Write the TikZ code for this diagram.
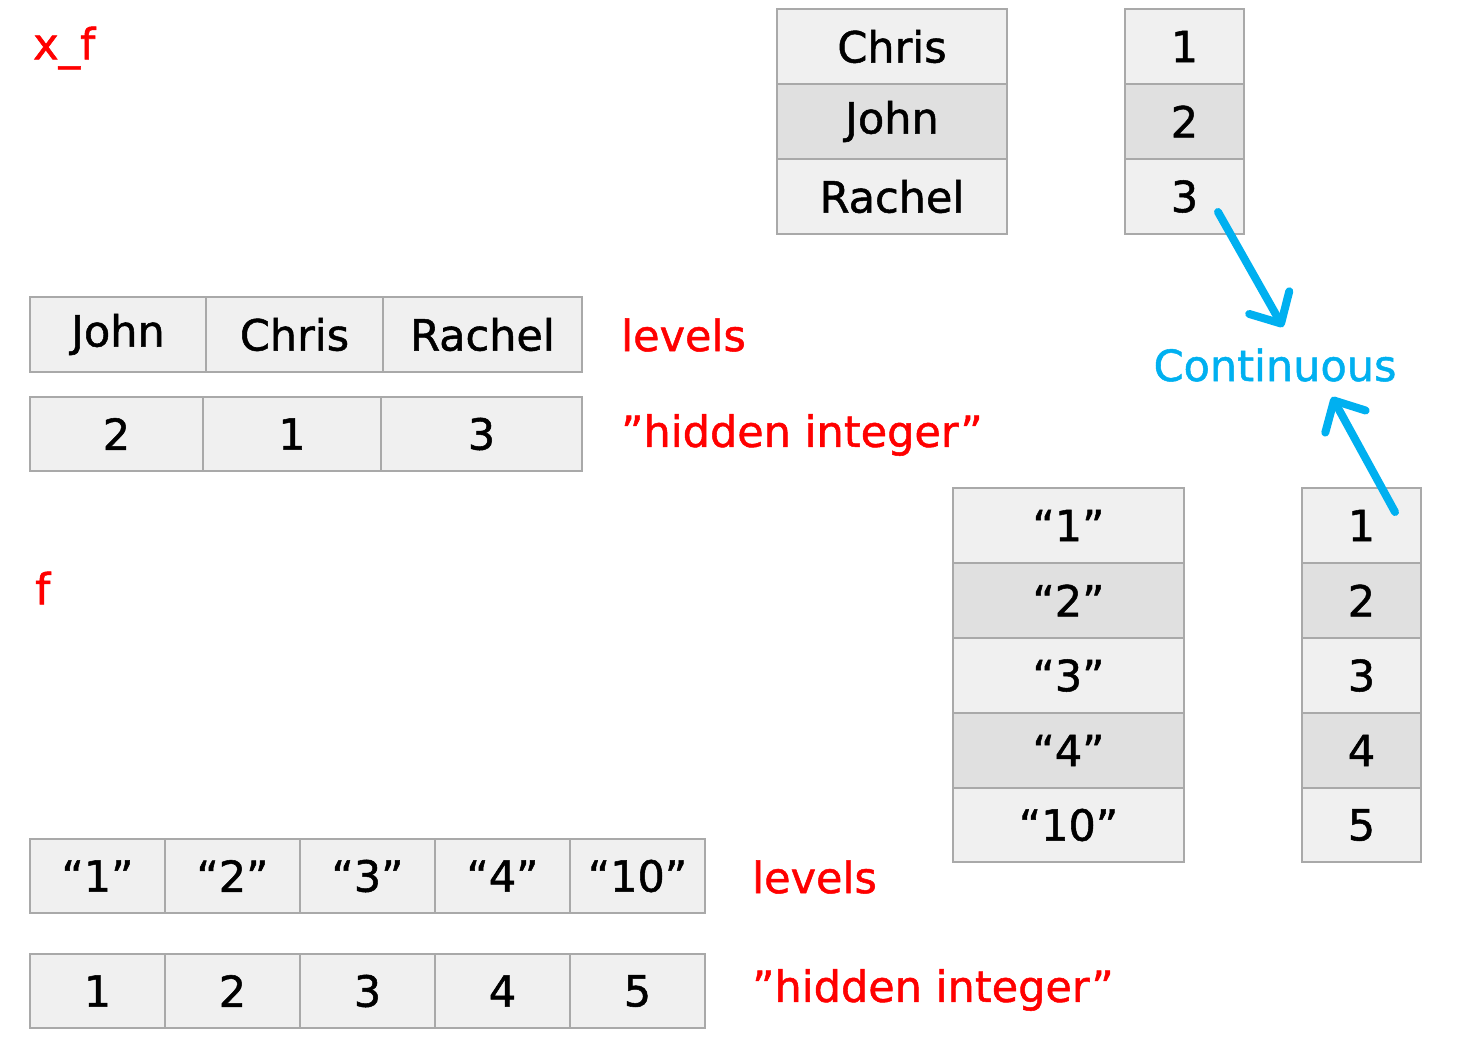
\documentclass[tikz,border=0pt]{standalone}
\usepackage{fontspec}
\setmainfont[FakeBold=1.2,AutoFakeBold=1.2]{DejaVu Sans}
\usetikzlibrary{arrows.meta,calc}
\definecolor{cellA}{HTML}{F0F0F0}
\definecolor{cellB}{HTML}{E0E0E0}
\definecolor{cellline}{HTML}{A9A9A9}
\definecolor{lblred}{HTML}{FF0000}
\definecolor{lblblue}{HTML}{00B0F0}
\tikzset{
  cell/.style={draw=cellline, fill=cellA, line width=2pt, inner sep=0pt, font=\fontsize{43}{50}\selectfont\bfseries, text=black},
  cellalt/.style={cell, fill=cellB},
  redlbl/.style={text=lblred, inner sep=0pt, anchor=west, font=\fontsize{43}{50}\selectfont\bfseries},
  bluelbl/.style={text=lblblue, inner sep=0pt, font=\fontsize{43}{50}\selectfont\bfseries},
  bluearrow/.style={draw=lblblue, line width=8pt, line cap=round, -{Straight Barb[length=24pt,width=46pt,round]}}
}
\begin{document}
\begin{tikzpicture}[x=1pt,y=-1pt]
\useasboundingbox (0,0) rectangle (1466,1052);
% top name table
\node[cell, minimum width=230pt, minimum height=75pt] (t1) at (892,46.5) {Chris};
\node[cellalt, minimum width=230pt, minimum height=75pt] (t2) at (892,121.5) {John};
\node[cell, minimum width=230pt, minimum height=75pt] (t3) at (892,196.5) {Rachel};
% top number table
\node[cell, minimum width=119pt, minimum height=75pt] (n1) at (1184.5,46.5) {1};
\node[cellalt, minimum width=119pt, minimum height=75pt] (n2) at (1184.5,121.5) {2};
\node[cell, minimum width=119pt, minimum height=75pt] (n3) at (1184.5,196.5) {3};
% x_f levels
\node[redlbl] (xf) at (33,48) {x\_f};
\node[cell, minimum width=176pt, minimum height=75pt] (l1) at (118,334.5) {John};
\node[cell, minimum width=177pt, minimum height=75pt] (l2) at (294.5,334.5) {Chris};
\node[cell, minimum width=199pt, minimum height=75pt] (l3) at (482.5,334.5) {Rachel};
\node[cell, minimum width=173pt, minimum height=74pt] (h1) at (116.5,434) {2};
\node[cell, minimum width=178pt, minimum height=74pt] (h2) at (292,434) {1};
\node[cell, minimum width=201pt, minimum height=74pt] (h3) at (481.5,434) {3};
\node[redlbl] (lev1) at (621,335) {levels};
\node[redlbl] (hid1) at (621,435) {”hidden integer”};
% f
\node[redlbl] (f) at (35,588) {f};
% right string table
\node[cell, minimum width=231pt, minimum height=75pt] (s1) at (1068.5,525.5) {“1”};
\node[cellalt, minimum width=231pt, minimum height=75pt] (s2) at (1068.5,600.5) {“2”};
\node[cell, minimum width=231pt, minimum height=75pt] (s3) at (1068.5,675.5) {“3”};
\node[cellalt, minimum width=231pt, minimum height=75pt] (s4) at (1068.5,750.5) {“4”};
\node[cell, minimum width=231pt, minimum height=74pt] (s5) at (1068.5,825) {“10”};
% right number table
\node[cell, minimum width=119pt, minimum height=75pt] (r1) at (1361.5,525.5) {1};
\node[cellalt, minimum width=119pt, minimum height=75pt] (r2) at (1361.5,600.5) {2};
\node[cell, minimum width=119pt, minimum height=75pt] (r3) at (1361.5,675.5) {3};
\node[cellalt, minimum width=119pt, minimum height=75pt] (r4) at (1361.5,750.5) {4};
\node[cell, minimum width=119pt, minimum height=74pt] (r5) at (1361.5,825) {5};
% bottom levels
\node[cell, minimum width=135pt, minimum height=74pt] (b1) at (97.5,876) {“1”};
\node[cell, minimum width=135pt, minimum height=74pt] (b2) at (232.5,876) {“2”};
\node[cell, minimum width=135pt, minimum height=74pt] (b3) at (367.5,876) {“3”};
\node[cell, minimum width=135pt, minimum height=74pt] (b4) at (502.5,876) {“4”};
\node[cell, minimum width=135pt, minimum height=74pt] (b5) at (637.5,876) {“10”};
\node[cell, minimum width=135pt, minimum height=74pt] (c1) at (97.5,991) {1};
\node[cell, minimum width=135pt, minimum height=74pt] (c2) at (232.5,991) {2};
\node[cell, minimum width=135pt, minimum height=74pt] (c3) at (367.5,991) {3};
\node[cell, minimum width=135pt, minimum height=74pt] (c4) at (502.5,991) {4};
\node[cell, minimum width=135pt, minimum height=74pt] (c5) at (637.5,991) {5};
\node[redlbl] (lev2) at (752,877) {levels};
\node[redlbl] (hid2) at (752,990) {”hidden integer”};
% continuous
\node[bluelbl] (cont) at (1275,365) {Continuous};
\coordinate (a1s) at (1218,212);
\coordinate (a1e) at (1283,327);
\coordinate (a2s) at (1395,512);
\coordinate (a2e) at (1332,397);
\draw[bluearrow] (a1s) -- (a1e);
\draw[bluearrow] (a2s) -- (a2e);
\end{tikzpicture}
\end{document}
